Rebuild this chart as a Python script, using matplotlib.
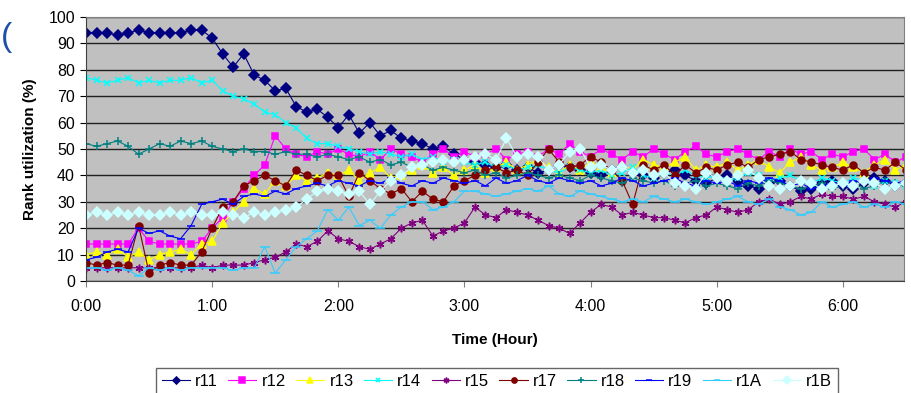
import matplotlib
matplotlib.use("Agg")
import matplotlib.pyplot as plt
import numpy as np

plt.rcParams["font.family"] = ["Liberation Sans", "DejaVu Sans"]

# sample every 5 minutes, 0:00 .. 6:30
MINUTES = list(range(0, 391, 5))
SERIES = ["r11", "r12", "r13", "r14", "r15", "r17", "r18", "r19", "r1A", "r1B"]

# one row per hour (12 samples), last row 6:00-6:30
r11 = [94, 94, 94, 93, 94, 95, 94, 94, 94, 94, 95, 95,
       92, 86, 81, 86, 78, 76, 72, 73, 66, 64, 65, 62,
       58, 63, 56, 60, 55, 57, 54, 53, 52, 50, 51, 48,
       46, 45, 44, 43, 44, 42, 43, 41, 42, 44, 43, 42,
       41, 40, 42, 43, 41, 40, 39, 41, 42, 40, 38, 37,
       39, 40, 38, 36, 35, 37, 38, 36, 34, 35, 37, 38,
       36, 35, 37, 39, 38, 36, 37]
r12 = [14, 14, 14, 14, 14, 20, 15, 14, 14, 14, 14, 15,
       20, 24, 30, 35, 40, 44, 55, 50, 48, 47, 49, 48,
       50, 48, 47, 49, 46, 50, 48, 47, 45, 48, 50, 47,
       49, 47, 48, 50, 46, 48, 49, 47, 50, 48, 52, 49,
       47, 50, 48, 46, 49, 47, 50, 48, 46, 49, 51, 48,
       47, 49, 50, 48, 46, 49, 47, 50, 48, 49, 46, 48,
       47, 49, 50, 46, 48, 45, 47]
r13 = [10, 11, 10, 12, 9, 11, 8, 10, 11, 12, 10, 14,
       15, 22, 26, 30, 35, 33, 38, 36, 40, 38, 39, 41,
       40, 42, 38, 41, 43, 39, 40, 42, 44, 41, 43, 40,
       42, 44, 41, 43, 45, 42, 44, 46, 43, 41, 44, 42,
       45, 43, 41, 44, 42, 46, 44, 43, 45, 47, 42, 44,
       43, 45, 42, 44, 46, 43, 41, 45, 47, 44, 42, 43,
       45, 43, 41, 44, 46, 42, 44]
r14 = [77, 76, 75, 76, 77, 75, 76, 75, 76, 76, 77, 75,
       76, 72, 70, 69, 67, 64, 63, 60, 58, 54, 52, 52,
       51, 50, 49, 48, 49, 48, 47, 48, 46, 47, 45, 46,
       45, 44, 45, 43, 44, 42, 43, 44, 42, 41, 43, 42,
       41, 42, 40, 41, 43, 40, 39, 41, 40, 42, 40, 39,
       40, 38, 39, 41, 40, 38, 39, 40, 38, 37, 39, 38,
       37, 39, 38, 36, 38, 37, 36]
r15 = [5, 5, 5, 5, 5, 5, 5, 5, 5, 5, 5, 6,
       5, 6, 6, 6, 7, 8, 9, 11, 14, 13, 15, 19,
       16, 15, 13, 12, 14, 16, 20, 22, 23, 17, 19, 20,
       22, 28, 25, 24, 27, 26, 25, 23, 21, 20, 18, 22,
       26, 29, 28, 25, 26, 25, 24, 24, 23, 22, 24, 25,
       28, 27, 26, 27, 30, 31, 29, 30, 32, 31, 33, 32,
       32, 31, 32, 30, 29, 28, 30]
r17 = [7, 6, 7, 6, 6, 21, 3, 6, 7, 6, 6, 11,
       20, 28, 30, 36, 38, 40, 38, 36, 42, 40, 38, 40,
       40, 32, 41, 38, 35, 33, 35, 30, 34, 31, 30, 36,
       38, 40, 42, 43, 41, 42, 40, 45, 50, 45, 43, 44,
       47, 45, 42, 38, 29, 44, 42, 44, 40, 44, 41, 43,
       42, 44, 45, 43, 46, 47, 48, 49, 46, 45, 44, 43,
       42, 44, 41, 43, 42, 45, 42]
r18 = [52, 51, 52, 53, 51, 48, 50, 52, 51, 53, 52, 53,
       51, 50, 49, 50, 49, 49, 48, 49, 48, 48, 47, 48,
       47, 46, 47, 45, 46, 44, 45, 43, 44, 42, 43, 42,
       41, 42, 40, 41, 39, 40, 41, 40, 39, 40, 39, 38,
       40, 39, 38, 37, 39, 38, 37, 38, 36, 37, 38, 36,
       37, 36, 35, 37, 36, 38, 37, 36, 35, 36, 37, 35,
       36, 37, 35, 36, 38, 37, 36]
r19 = [8, 9, 11, 12, 11, 20, 18, 19, 17, 16, 21, 29,
       30, 31, 29, 32, 33, 32, 34, 33, 35, 36, 37, 36,
       38, 37, 36, 38, 37, 39, 37, 36, 38, 37, 39, 38,
       37, 38, 36, 39, 37, 38, 40, 38, 37, 39, 38, 37,
       38, 36, 37, 39, 38, 36, 37, 38, 39, 37, 36, 38,
       37, 38, 36, 38, 37, 39, 38, 36, 37, 35, 36, 37,
       36, 38, 37, 39, 38, 37, 38]
r1A = [5, 5, 4, 5, 4, 2, 5, 4, 5, 4, 5, 5,
       5, 5, 4, 5, 5, 13, 3, 8, 13, 16, 19, 27,
       23, 28, 21, 23, 20, 25, 28, 30, 30, 27, 28, 30,
       34, 34, 33, 32, 33, 34, 35, 34, 36, 33, 32, 34,
       33, 32, 31, 30, 31, 30, 32, 31, 30, 31, 30, 29,
       30, 31, 32, 30, 29, 31, 28, 27, 25, 26, 30, 28,
       29, 30, 28, 29, 28, 30, 29]
r1B = [25, 26, 25, 26, 25, 26, 25, 25, 26, 25, 26, 25,
       25, 26, 25, 24, 26, 25, 26, 27, 28, 31, 34, 35,
       34, 33, 34, 29, 34, 38, 40, 43, 44, 45, 46, 45,
       46, 47, 48, 46, 54, 47, 48, 47, 42, 44, 49, 50,
       43, 44, 42, 43, 41, 42, 40, 41, 37, 36, 35, 41,
       39, 38, 40, 42, 39, 36, 35, 36, 38, 37, 35, 36,
       37, 36, 38, 37, 35, 36, 37]

HOUR_TICKS = [0, 1, 2, 3, 4, 5, 6]
HOUR_LABELS = ["0:00", "1:00", "2:00", "3:00", "4:00", "5:00", "6:00"]

STYLE = {
    "r11": dict(color="#000080", marker="D", ms=4.8),
    "r12": dict(color="#FF00FF", marker="s", ms=5),
    "r13": dict(color="#FFFF00", marker="^", ms=5.5),
    "r14": dict(color="#00FFFF", marker="x", ms=4.5),
    "r15": dict(color="#800080", marker=(6, 2, 0), ms=5.5),
    "r17": dict(color="#800000", marker="o", ms=5),
    "r18": dict(color="#008080", marker="+", ms=5.5),
    "r19": dict(color="#0000FF", marker="_", ms=5.5),
    "r1A": dict(color="#33CCFF", marker="_", ms=6.5),
    "r1B": dict(color="#CCFFFF", marker="D", ms=5),
}

data = {"r11": r11, "r12": r12, "r13": r13, "r14": r14, "r15": r15,
        "r17": r17, "r18": r18, "r19": r19, "r1A": r1A, "r1B": r1B}

fig = plt.figure(figsize=(9.11, 3.93), dpi=100)
ax = fig.add_axes([0.0944, 0.285, 0.898, 0.672])
ax.set_facecolor("#C0C0C0")

hours = np.array(MINUTES) / 60.0
for name in SERIES:
    st = STYLE[name]
    ax.plot(hours, data[name], color=st["color"], linewidth=0.8, marker=st["marker"],
            markersize=st["ms"], markerfacecolor=st["color"], markeredgecolor=st["color"],
            markeredgewidth=1.1, label=name)

ax.set_xlim(0, 6.485)
ax.set_ylim(0, 100)
ax.set_yticks(range(0, 101, 10))
ax.set_xticks(HOUR_TICKS)
ax.set_xticklabels(HOUR_LABELS)
ax.tick_params(axis="both", labelsize=11.5, colors="black", length=4, width=0.8)
ax.tick_params(axis="x", pad=9, colors="#808080", labelcolor="black")
ax.tick_params(axis="y", pad=4)
ax.yaxis.grid(True, color="#202020", linewidth=1.0)
ax.set_axisbelow(True)
for side in ["top", "right"]:
    ax.spines[side].set_color("#808080")
for side in ["left", "bottom"]:
    ax.spines[side].set_color("#404040")

ax.set_xlabel("Time (Hour)", fontsize=11, fontweight="bold", labelpad=14)
ax.set_ylabel("Rank utilization (%)", fontsize=11, fontweight="bold", labelpad=8)

leg = fig.legend(loc="upper left", bbox_to_anchor=(0.171, 0.0636), ncol=10,
                 fontsize=12, frameon=True, fancybox=False, edgecolor="#404040",
                 handlelength=1.7, handletextpad=0.3, columnspacing=0.62,
                 borderpad=0.35, borderaxespad=0.0, markerscale=0.75)
leg.get_frame().set_linewidth(1.0)

# blue fragment at the very left edge of the slide
fig.text(0.001, 0.905, "(", fontsize=24, color="#1F4FA8", va="center", ha="left")

fig.savefig("out.png", dpi=100)
